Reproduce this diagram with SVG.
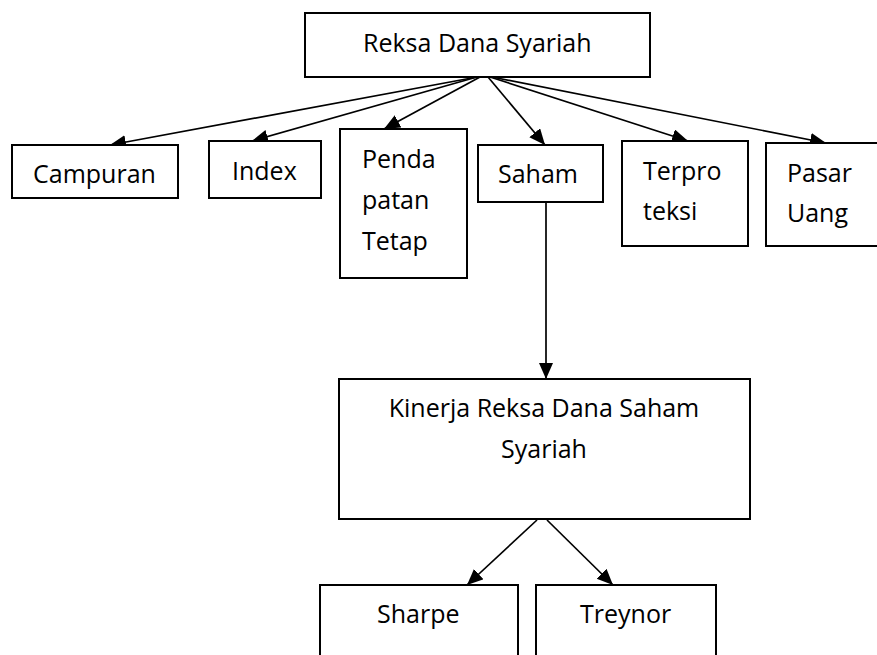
<svg xmlns="http://www.w3.org/2000/svg" width="877" height="655" viewBox="0 0 877 655">
<style>
.box{fill:#fff;stroke:#000;stroke-width:2}
.t{font-family:"Open Sans","Liberation Sans",sans-serif;font-size:25px;fill:#000}
.c{stroke:#000;stroke-width:1.7;fill:none;marker-end:url(#ah)}
</style>
<defs>
<marker id="ah" markerUnits="userSpaceOnUse" markerWidth="18" markerHeight="16" refX="16" refY="7" orient="auto">
<path d="M0,0 L16,7 L0,14 z" fill="#000"/>
</marker>
</defs>
<rect width="877" height="655" fill="#fff"/>
<g id="connectors">
<line class="c" x1="477" y1="77" x2="110" y2="145"/>
<line class="c" x1="477" y1="77" x2="252" y2="141"/>
<line class="c" x1="480" y1="77" x2="384" y2="129"/>
<line class="c" x1="488" y1="77" x2="545" y2="145"/>
<line class="c" x1="490" y1="77" x2="688" y2="141"/>
<line class="c" x1="492" y1="77" x2="826" y2="143"/>
<line class="c" x1="546" y1="202" x2="546" y2="379"/>
<line class="c" x1="537" y1="520" x2="467" y2="585"/>
<line class="c" x1="547" y1="520" x2="613" y2="585"/>
</g>
<g id="root"><rect class="box" x="305" y="13" width="345" height="64"/><text class="t" x="363" y="52">Reksa Dana Syariah</text></g>
<g id="campuran"><rect class="box" x="12" y="145" width="166" height="53"/><text class="t" x="33" y="183">Campuran</text></g>
<g id="index"><rect class="box" x="209" y="141" width="112" height="57"/><text class="t" x="232" y="180">Index</text></g>
<g id="pendapatan"><rect class="box" x="340" y="129" width="127" height="149"/><text class="t" x="362" y="168">Penda</text><text class="t" x="362" y="209">patan</text><text class="t" x="362" y="250">Tetap</text></g>
<g id="saham"><rect class="box" x="478" y="145" width="125" height="57"/><text class="t" x="498" y="183">Saham</text></g>
<g id="terproteksi"><rect class="box" x="622" y="141" width="126" height="105"/><text class="t" x="643" y="180">Terpro</text><text class="t" x="643" y="220">teksi</text></g>
<g id="pasaruang"><rect class="box" x="766" y="143" width="120" height="103"/><text class="t" x="787" y="182">Pasar</text><text class="t" x="787" y="222">Uang</text></g>
<g id="kinerja"><rect class="box" x="339" y="379" width="411" height="140"/><text class="t" x="544" y="417" text-anchor="middle">Kinerja Reksa Dana Saham</text><text class="t" x="544" y="458" text-anchor="middle">Syariah</text></g>
<g id="sharpe"><rect class="box" x="320" y="585" width="198" height="90"/><text class="t" x="377" y="623">Sharpe</text></g>
<g id="treynor"><rect class="box" x="536" y="585" width="180" height="90"/><text class="t" x="580" y="623">Treynor</text></g>
</svg>
